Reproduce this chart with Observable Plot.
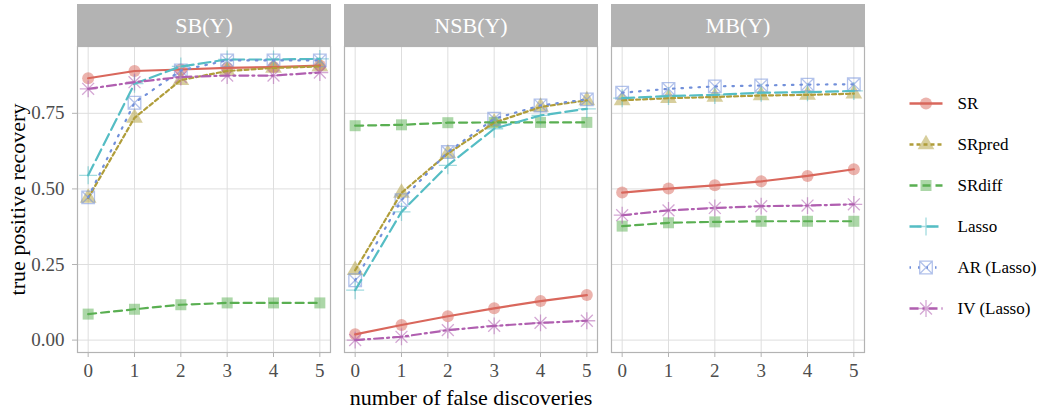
<!DOCTYPE html>
<html><head><meta charset="utf-8">
<script src="https://cdn.jsdelivr.net/npm/d3@7"></script>
<script src="https://cdn.jsdelivr.net/npm/@observablehq/plot@0.6"></script>
<style>
body{margin:0;background:#fff;}
#wrap{display:flex;width:1041px;height:411px;background:#fff;}
</style></head><body><div id="wrap"></div>
<script>
// ---- data ----
const panels = ["SB(Y)", "NSB(Y)", "MB(Y)"];
const falseDiscoveries = [0, 1, 2, 3, 4, 5];
const seriesNames = ["SR", "SRpred", "SRdiff", "Lasso", "AR (Lasso)", "IV (Lasso)"];
const yTicks = [0, 0.25, 0.5, 0.75];

// values per panel: [SB(Y), NSB(Y), MB(Y)]
const SR = [
  [0.866, 0.890, 0.895, 0.900, 0.903, 0.908],
  [0.019, 0.050, 0.079, 0.105, 0.129, 0.149],
  [0.488, 0.501, 0.512, 0.525, 0.543, 0.565]
];
const SRpred = [
  [0.470, 0.735, 0.860, 0.890, 0.900, 0.905],
  [0.231, 0.487, 0.617, 0.719, 0.771, 0.793],
  [0.793, 0.800, 0.804, 0.809, 0.811, 0.815]
];
const SRdiff = [
  [0.086, 0.102, 0.117, 0.123, 0.123, 0.123],
  [0.709, 0.712, 0.719, 0.720, 0.720, 0.720],
  [0.377, 0.388, 0.391, 0.393, 0.393, 0.393]
];
const Lasso = [
  [0.545, 0.848, 0.905, 0.928, 0.928, 0.930],
  [0.165, 0.424, 0.578, 0.699, 0.743, 0.765],
  [0.800, 0.807, 0.811, 0.818, 0.820, 0.824]
];
const AR = [
  [0.472, 0.785, 0.892, 0.925, 0.925, 0.925],
  [0.198, 0.463, 0.622, 0.732, 0.776, 0.796],
  [0.818, 0.831, 0.839, 0.842, 0.845, 0.846]
];
const IV = [
  [0.831, 0.853, 0.870, 0.875, 0.875, 0.885],
  [0.000, 0.011, 0.033, 0.047, 0.057, 0.064],
  [0.413, 0.429, 0.437, 0.443, 0.445, 0.449]
];
const seriesValues = [SR, SRpred, SRdiff, Lasso, AR, IV];

// ---- custom symbols ----
const plusThin = {draw(ctx, size) { const r = Math.sqrt(size / Math.PI) * 1.5;
  ctx.moveTo(-r, 0); ctx.lineTo(r, 0); ctx.moveTo(0, -r); ctx.lineTo(0, r); }};
const boxX = {draw(ctx, size) { const h = Math.sqrt(size / Math.PI) * 1.05;
  ctx.moveTo(-h, -h); ctx.lineTo(h, -h); ctx.lineTo(h, h); ctx.lineTo(-h, h); ctx.closePath();
  ctx.moveTo(-h, -h); ctx.lineTo(h, h); ctx.moveTo(h, -h); ctx.lineTo(-h, h); }};
const star8 = {draw(ctx, size) { const r = Math.sqrt(size / Math.PI) * 1.4;
  for (let k = 0; k < 4; k++) { const a = k * Math.PI / 4;
    ctx.moveTo(-r * Math.cos(a), -r * Math.sin(a)); ctx.lineTo(r * Math.cos(a), r * Math.sin(a)); } }};

// ---- styles ----
const styles = [
  {color: "#D9675C", dash: null, symbol: "circle", r: 6.0, filled: true},
  {color: "#B09D3A", dash: "4,3", symbol: "triangle", r: 6.2, filled: true},
  {color: "#5AAF52", dash: "8,5", symbol: "square", r: 6.2, filled: true},
  {color: "#55BDC4", dash: "12,5", symbol: plusThin, r: 6.0, filled: false},
  {color: "#7290DA", dash: "1.5,7", symbol: boxX, r: 6.0, filled: false},
  {color: "#B05FB0", dash: "9,4,2,4", symbol: star8, r: 6.0, filled: false}
];

const rows = [];
seriesNames.forEach((s, i) => panels.forEach((p, j) => falseDiscoveries.forEach((x, k) =>
  rows.push({series: s, panel: p, x, y: seriesValues[i][j][k]}))));

const FONT = "'Liberation Serif', serif";
const W = 880, H = 411, MT = 46, MB = 59;
const panelH = H - MT - MB;

function dotOpts(st) {
  return st.filled
    ? {fill: st.color, fillOpacity: 0.5, stroke: "none", symbol: st.symbol, r: st.r}
    : {fill: "none", stroke: st.color, strokeOpacity: 0.55, strokeWidth: 1.3, symbol: st.symbol, r: st.r};
}

const marks = [
  Plot.frame({fill: "#B3B3B3", stroke: "#B3B3B3", insetTop: -42, insetBottom: panelH}),
  Plot.gridX(falseDiscoveries, {stroke: "#DEDEDE", strokeOpacity: 1, strokeWidth: 1}),
  Plot.gridY(yTicks, {stroke: "#DEDEDE", strokeOpacity: 1, strokeWidth: 1}),
  Plot.frame({stroke: "#B3B3B3", strokeWidth: 1.2}),
  Plot.axisX(falseDiscoveries, {tickSize: 5, tickPadding: 6, fontSize: 19, stroke: "#B3B3B3", fill: "#4D4D4D", label: null, fontFamily: FONT}),
  Plot.axisY(yTicks, {tickSize: 5, tickPadding: 8, fontSize: 19, stroke: "#B3B3B3", fill: "#4D4D4D", tickFormat: d3.format(".2f"), label: null, fontFamily: FONT}),
  Plot.text(panels, {fx: d => d, text: d => d, frameAnchor: "top", lineAnchor: "middle", dy: -21, fill: "white", fontSize: 22, fontFamily: FONT}),
  Plot.text(["true positive recovery"], {fx: () => "SB(Y)", text: d => d, frameAnchor: "left", textAnchor: "middle", lineAnchor: "middle", rotate: -90, dx: -60, fontSize: 22, fill: "black", fontFamily: FONT}),
  Plot.text(["number of false discoveries"], {fx: () => "NSB(Y)", text: d => d, frameAnchor: "bottom", textAnchor: "middle", lineAnchor: "middle", dy: 45, fontSize: 22, fill: "black", fontFamily: FONT})
];
seriesNames.forEach((s, i) => {
  const st = styles[i];
  const data = rows.filter(d => d.series === s);
  marks.push(Plot.dot(data, {x: "x", y: "y", fx: "panel", ...dotOpts(st)}));
});
seriesNames.forEach((s, i) => {
  const st = styles[i];
  const data = rows.filter(d => d.series === s);
  marks.push(Plot.line(data, {x: "x", y: "y", fx: "panel", stroke: st.color, strokeWidth: 2.2,
    strokeDasharray: st.dash}));
});

const main = Plot.plot({
  width: W, height: H, marginLeft: 77, marginRight: 15, marginTop: MT, marginBottom: MB,
  style: {fontFamily: FONT, background: "white"},
  fx: {domain: panels, paddingInner: 0.052, paddingOuter: 0, axis: null, label: null},
  x: {domain: [-0.23, 5.23], label: null},
  y: {domain: [-0.041, 0.971], label: null},
  marks
});

// ---- legend ----
const legMarks = [];
seriesNames.forEach((s, i) => {
  const st = styles[i];
  legMarks.push(Plot.dot([s], {x: () => 0.5, y: d => d, ...dotOpts(st)}));
  legMarks.push(Plot.link([s], {x1: () => 0, x2: () => 1, y1: d => d, y2: d => d,
    stroke: st.color, strokeWidth: 2.6, strokeDasharray: st.dash}));
});
legMarks.push(Plot.text(seriesNames, {x: () => 1, y: d => d, text: d => d, dx: 15, textAnchor: "start", fontSize: 17, fill: "black", fontFamily: FONT}));
const legend = Plot.plot({
  width: 161, height: H, marginLeft: 29, marginRight: 99, marginTop: 102, marginBottom: 103,
  style: {fontFamily: FONT, background: "white"},
  x: {domain: [0, 1], axis: null},
  y: {domain: seriesNames, type: "point", padding: 0, axis: null},
  marks: legMarks
});

const wrap = document.getElementById("wrap");
wrap.appendChild(main);
wrap.appendChild(legend);
</script></body></html>
